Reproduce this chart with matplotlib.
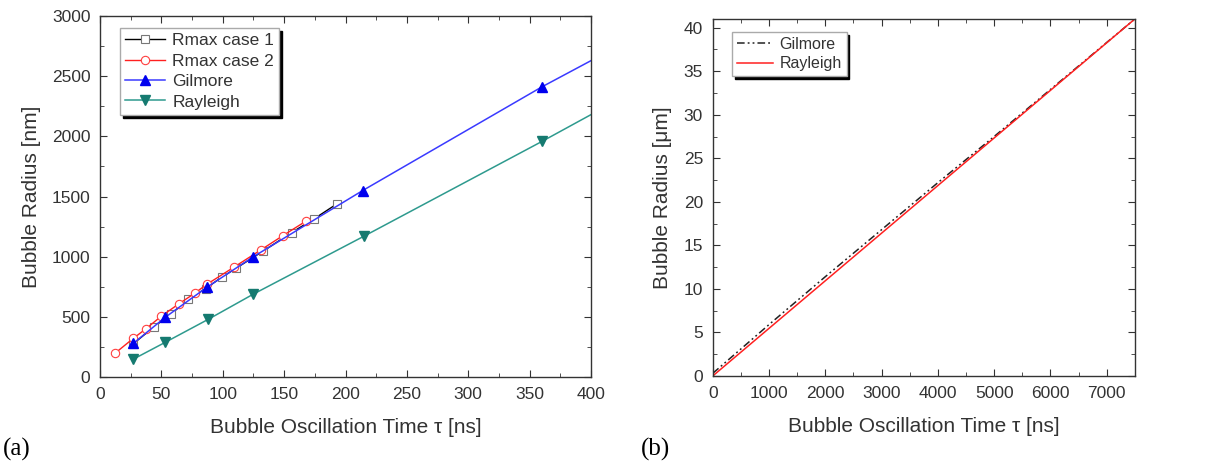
import matplotlib
matplotlib.use("Agg")
import matplotlib.pyplot as plt
from matplotlib.ticker import MultipleLocator

plt.rcParams['font.family'] = ['Liberation Sans', 'DejaVu Sans']

# panel (a) data  (tau in ns, radius in nm)
case1_tau = [27, 44, 58, 72, 86, 99, 111, 133, 156, 174, 193]
case1_r = [275, 417, 525, 645, 735, 828, 905, 1047, 1200, 1312, 1439]
case2_tau = [12, 27, 37, 50, 64, 77, 87, 109, 131, 149, 168]
case2_r = [195, 320, 397, 506, 606, 695, 770, 912, 1056, 1175, 1297]
gil_tau = [27, 53, 87, 125, 214, 360, 400]
gil_r = [278, 495, 745, 1000, 1550, 2412, 2630]
ray_tau = [27, 53, 88, 125, 215, 360, 400]
ray_r = [147, 287, 478, 689, 1170, 1958, 2181]

# panel (b) data  (tau in ns, radius in um)
gil_b_tau = [0, 1000, 2000, 3000, 4000, 5000, 6000, 7500]
gil_b_r = [0.3, 5.9, 11.4, 16.8, 22.2, 27.5, 32.9, 41.0]
ray_b_tau = [0, 7500]
ray_b_r = [0.0, 41.0]

txt = '#333333'

fig = plt.figure(figsize=(12.06, 4.63), dpi=100)
ax1 = fig.add_axes([0.083, 0.186, 0.407, 0.779])
ax2 = fig.add_axes([0.591, 0.188, 0.350, 0.771])


def style(ax):
    for s in ax.spines.values():
        s.set_color(txt)
        s.set_linewidth(1.0)
    ax.tick_params(which='both', direction='in', top=True, right=True,
                   colors=txt, labelsize=12.5, pad=7)
    ax.tick_params(which='major', length=5)
    ax.tick_params(which='minor', length=3)


ax1.plot(case1_tau, case1_r, '-s', color='black', lw=1, ms=5.5,
         mfc='white', mec='#777777', mew=0.8, label='Rmax case 1')
ax1.plot(case2_tau, case2_r, '-o', color='#ff2020', lw=1, ms=6,
         mfc='white', mec='#ff4040', mew=0.8, label='Rmax case 2')
ax1.plot(gil_tau, gil_r, '-^', color='#3a3aff', lw=1.1, ms=7,
         mfc='#0000ee', mec='#0000ee', markevery=list(range(len(gil_tau) - 1)),
         label='Gilmore')
ax1.plot(ray_tau, ray_r, '-v', color='#2e9a8e', lw=1.1, ms=7,
         mfc='#157a70', mec='#157a70', markevery=list(range(len(ray_tau) - 1)),
         label='Rayleigh')
ax1.set_xlim(0, 400)
ax1.set_ylim(0, 3000)
ax1.xaxis.set_major_locator(MultipleLocator(50))
ax1.xaxis.set_minor_locator(MultipleLocator(25))
ax1.yaxis.set_major_locator(MultipleLocator(500))
ax1.yaxis.set_minor_locator(MultipleLocator(250))
style(ax1)
ax1.set_xlabel('Bubble Oscillation Time \u03c4 [ns]', fontsize=15, color=txt, labelpad=12)
ax1.set_ylabel('Bubble Radius [nm]', fontsize=15, color=txt, labelpad=8)
leg1 = ax1.legend(loc='upper left', bbox_to_anchor=(0.041, 0.967), fontsize=12.5,
                  fancybox=False, framealpha=1, edgecolor='#aaaaaa',
                  shadow={'color': 'black', 'alpha': 1},
                  handlelength=2.3, handletextpad=0.4, borderpad=0.3,
                  labelspacing=0.3, borderaxespad=0)
for t in leg1.get_texts():
    t.set_color(txt)

ax2.plot(gil_b_tau, gil_b_r, color='#222222', lw=1.1,
         linestyle=(0, (5, 2, 1.2, 2, 1.2, 2)), label='Gilmore')
ax2.plot(ray_b_tau, ray_b_r, color='#ff2020', lw=1.1, label='Rayleigh')
ax2.set_xlim(0, 7500)
ax2.set_ylim(0, 41)
ax2.xaxis.set_major_locator(MultipleLocator(1000))
ax2.xaxis.set_minor_locator(MultipleLocator(500))
ax2.yaxis.set_major_locator(MultipleLocator(5))
ax2.yaxis.set_minor_locator(MultipleLocator(2.5))
style(ax2)
ax2.set_xlabel('Bubble Oscillation Time \u03c4 [ns]', fontsize=15, color=txt, labelpad=12)
ax2.set_ylabel('Bubble Radius [\u03bcm]', fontsize=15, color=txt, labelpad=8)
leg2 = ax2.legend(loc='upper left', bbox_to_anchor=(0.045, 0.964), fontsize=11.5,
                  fancybox=False, framealpha=1, edgecolor='#aaaaaa',
                  shadow={'color': 'black', 'alpha': 1},
                  handlelength=2.3, handletextpad=0.4, borderpad=0.3,
                  labelspacing=0.3, borderaxespad=0)
for t in leg2.get_texts():
    t.set_color(txt)

fig.text(0.002, 0.015, '(a)', fontsize=18, family='Liberation Serif', color='black')
fig.text(0.531, 0.015, '(b)', fontsize=18, family='Liberation Serif', color='black')

fig.savefig('out.png', dpi=100)
